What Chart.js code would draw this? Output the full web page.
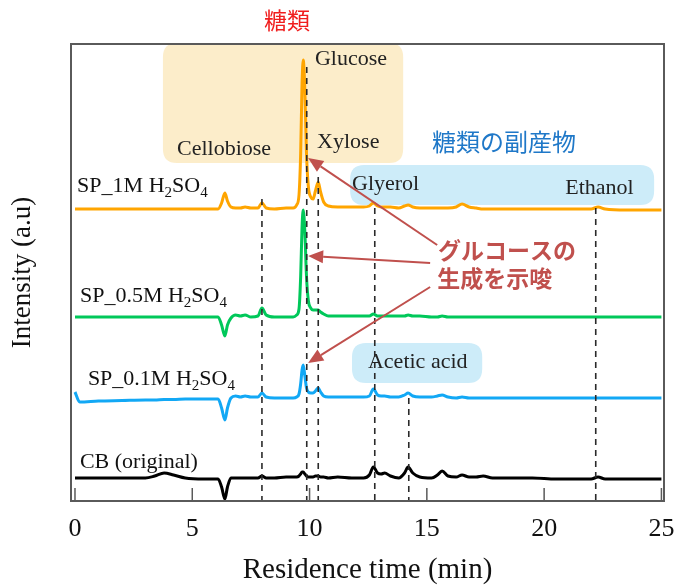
<!DOCTYPE html>
<html><head><meta charset="utf-8">
<script src="https://cdn.jsdelivr.net/npm/chart.js@4/dist/chart.umd.min.js"></script>
<style>html,body{margin:0;padding:0;background:#fff}</style>
</head><body>
<canvas id="c" width="675" height="585"></canvas>
<script>
// ---- data ----
const times = [0,0.2,1.0,2.0,3.0,3.4,3.8,4.2,4.7,5.5,6.1,6.25,6.39,6.5,6.65,6.85,7.05,7.25,7.5,7.8,7.97,8.15,8.5,9.0,9.3,9.45,9.55,9.62,9.68,9.73,9.8,9.87,9.95,10.05,10.15,10.25,10.37,10.47,10.6,10.8,11.2,11.8,12.3,12.55,12.72,12.9,13.05,13.2,13.45,13.8,14.05,14.2,14.4,14.7,15.2,15.45,15.65,15.9,16.25,16.5,16.8,17.1,17.4,17.8,18.5,19.5,20.5,21.5,22.0,22.3,22.6,23.5,24.3,25.0];
const seriesNames = ['SP_1M H2SO4','SP_0.5M H2SO4','SP_0.1M H2SO4','CB (original)'];
const sp1M   = [0,0,0,0,0,0,0,0,0,0,0,6,16,8,2,1,1,2,1,1,6,1,0,1,1,4,14,55,125,149,118,55,22,12,10,18,27,17,7,3,2,2,2,3,6,3,2,2,2,1,3,4,2,1,1,1,1,1,2,5,2,1,0,0,0,0,0,0,0,2,0,-1,-1,-1];
const sp05M  = [0,0,0,0,0,0,0,0,0,0,0,-8,-19,-8,-1,2,1,2,0,1,9,2,0,0,0,2,8,40,90,107,85,40,16,9,7,7,7,5,3,1,1,1,1,1,3,1,1,1,1,1,1,2,1,1,0,0,1,0,0,0,0,0,0,0,0,0,0,0,0,0,0,0,0,0];
const sp01M  = [6,-4,-3,-2.5,-2,-2,-1.5,-1.5,-1,-1,-1,-10,-22,-10,0,2,1,2,1,1,5,1,0,0,0,1,4,14,28,33,22,10,6,5,5,7,10,6,2,1,1,1,1,2,9,3,2,2,1,1,3,5,2,1,1,2,3,1,0,1,0,0,0,0,0,0,0,0,0,0,0,0,0,0];
const cbOrig = [0,0,0,0,0,2,5,3,0,-1,-1,-9,-21,-9,0,0,0,0,0,0,2,0,0,1,1,1,2,4,6,6,4,2,1,1,1,2,2,1,1,0,1,0,0,3,11,5,4,5,2,0,5,11,5,1,0,3,7,2,1,3,1,1,2,0,0,0,-1,-1,-1,1,-1,-1,-1,-1];
const baselineOffsets = [292,184,103,23];
const seriesColors = ['#FFA500','#00C85A','#12A8F5','#000000'];
const xTickValues = [0,5,10,15,20,25];
const markerTimes = [7.97,9.88,10.37,12.78,14.23,22.2];
const markerTops  = [302,434,324,293,103,293];

const serif = 'Liberation Serif, Times New Roman, serif';
const cjk = '"Noto Sans CJK JP", sans-serif';

const seriesLabels = [
  {parts:[['SP_1M H',0],['2',1],['SO',0],['4',1]], x:0.09, y:309},
  {parts:[['SP_0.5M H',0],['2',1],['SO',0],['4',1]], x:0.21, y:199},
  {parts:[['SP_0.1M H',0],['2',1],['SO',0],['4',1]], x:0.55, y:116},
  {parts:[['CB (original)',0]], x:0.21, y:33}
];
const compoundLabels = [
  {t:'Glucose', x:10.23, y:436}, {t:'Xylose', x:10.32, y:353}, {t:'Cellobiose', x:4.35, y:346},
  {t:'Glyerol', x:11.81, y:311}, {t:'Ethanol', x:20.9, y:307}, {t:'Acetic acid', x:12.49, y:133}
];
const shadeBoxes = [
  {x0:3.75, x1:13.99, y0:338, y1:458, c:'rgba(250,220,150,0.5)'},
  {x0:11.73, x1:24.69, y0:296, y1:336, c:'#CDECF9'},
  {x0:11.81, x1:17.36, y0:118, y1:158, c:'#CDECF9'}
];
const arrows = [
  {x0:15.44, y0:256, x1:9.94, y1:343},
  {x0:15.14, y0:238, x1:9.94, y1:245},
  {x0:15.14, y0:214, x1:9.94, y1:138}
];

const seriesValues = [sp1M, sp05M, sp01M, cbOrig];
const datasets = seriesValues.map((vals, i) => ({
  label: seriesNames[i],
  data: times.map((t, k) => ({x: t, y: baselineOffsets[i] + vals[k]})),
  borderColor: seriesColors[i], borderWidth: 3, pointRadius: 0,
  cubicInterpolationMode: 'monotone', fill: false
}));

function rr(ctx, x, y, w, h, r) {
  ctx.beginPath();
  ctx.moveTo(x + r, y); ctx.lineTo(x + w - r, y); ctx.quadraticCurveTo(x + w, y, x + w, y + r);
  ctx.lineTo(x + w, y + h - r); ctx.quadraticCurveTo(x + w, y + h, x + w - r, y + h);
  ctx.lineTo(x + r, y + h); ctx.quadraticCurveTo(x, y + h, x, y + h - r);
  ctx.lineTo(x, y + r); ctx.quadraticCurveTo(x, y, x + r, y); ctx.closePath();
}

const deco = {
  id: 'deco',
  beforeDatasetsDraw(chart) {
    const {ctx, scales: {x, y}} = chart;
    ctx.save();
    shadeBoxes.forEach(b => {
      const px0 = x.getPixelForValue(b.x0), px1 = x.getPixelForValue(b.x1);
      const py0 = y.getPixelForValue(b.y1), py1 = y.getPixelForValue(b.y0);
      ctx.fillStyle = b.c; rr(ctx, px0, py0, px1 - px0, py1 - py0, 14); ctx.fill();
    });
    ctx.restore();
  },
  afterDatasetsDraw(chart) {
    const {ctx, chartArea: a, scales: {x, y}} = chart;
    ctx.save();
    // dashed markers
    ctx.strokeStyle = '#2a2a2a'; ctx.lineWidth = 1.6; ctx.setLineDash([6, 5]);
    markerTimes.forEach((t, i) => {
      const px = x.getPixelForValue(t);
      ctx.beginPath(); ctx.moveTo(px, y.getPixelForValue(markerTops[i])); ctx.lineTo(px, y.getPixelForValue(0)); ctx.stroke();
    });
    ctx.setLineDash([]);
    // border box
    ctx.strokeStyle = '#5a5a5a'; ctx.lineWidth = 2;
    ctx.strokeRect(a.left, a.top, a.right - a.left, a.bottom - a.top);
    // inward ticks
    ctx.lineWidth = 1.5;
    xTickValues.forEach(v => {
      const px = x.getPixelForValue(v);
      ctx.beginPath(); ctx.moveTo(px, a.bottom); ctx.lineTo(px, a.bottom - 13); ctx.stroke();
    });
    // series labels
    ctx.fillStyle = '#111'; ctx.textBaseline = 'alphabetic'; ctx.textAlign = 'left';
    seriesLabels.forEach(l => {
      let px = x.getPixelForValue(l.x); const py = y.getPixelForValue(l.y);
      l.parts.forEach(([s, sub]) => {
        ctx.font = (sub ? 15 : 22) + 'px ' + serif;
        ctx.fillText(s, px, py + (sub ? 5 : 0));
        px += ctx.measureText(s).width;
      });
    });
    ctx.font = '22px ' + serif; ctx.fillStyle = '#222';
    compoundLabels.forEach(l => ctx.fillText(l.t, x.getPixelForValue(l.x), y.getPixelForValue(l.y)));
    // Japanese labels
    ctx.textBaseline = 'middle';
    ctx.font = '23px ' + cjk; ctx.fillStyle = '#F01E1E'; ctx.textAlign = 'center';
    ctx.fillText('糖類', x.getPixelForValue(9.04), y.getPixelForValue(481));
    ctx.textAlign = 'left';
    ctx.font = '24px ' + cjk; ctx.fillStyle = '#1F78C8';
    ctx.fillText('糖類の副産物', x.getPixelForValue(15.22), y.getPixelForValue(359));
    ctx.font = 'bold 23px ' + cjk; ctx.fillStyle = '#C0504D';
    ctx.fillText('グルコースの', x.getPixelForValue(15.48), y.getPixelForValue(251));
    ctx.fillText('生成を示唆', x.getPixelForValue(15.44), y.getPixelForValue(223));
    // arrows
    ctx.strokeStyle = '#C0504D'; ctx.fillStyle = '#C0504D'; ctx.lineWidth = 2;
    arrows.forEach(r => {
      const ax = x.getPixelForValue(r.x0), ay = y.getPixelForValue(r.y0);
      const bx = x.getPixelForValue(r.x1), by = y.getPixelForValue(r.y1);
      const ang = Math.atan2(by - ay, bx - ax), L = 15, W = 6.5;
      const cx = bx - L * Math.cos(ang), cy = by - L * Math.sin(ang);
      ctx.beginPath(); ctx.moveTo(ax, ay); ctx.lineTo(cx, cy); ctx.stroke();
      ctx.beginPath(); ctx.moveTo(bx, by);
      ctx.lineTo(cx + W * Math.sin(ang), cy - W * Math.cos(ang));
      ctx.lineTo(cx - W * Math.sin(ang), cy + W * Math.cos(ang));
      ctx.closePath(); ctx.fill();
    });
    ctx.restore();
  }
};

new Chart(document.getElementById('c'), {
  type: 'line',
  data: {datasets},
  plugins: [deco],
  options: {
    responsive: false, animation: false, devicePixelRatio: 1,
    layout: {padding: {left: 0, top: 44, right: 11, bottom: 0}},
    plugins: {legend: {display: false}, tooltip: {enabled: false}},
    scales: {
      x: {
        type: 'linear', min: -0.17, max: 25.11,
        afterBuildTicks: s => { s.ticks = xTickValues.map(v => ({value: v})); },
        grid: {display: false, drawTicks: false}, border: {display: false},
        ticks: {font: {family: serif, size: 26}, color: '#111', padding: 13, maxRotation: 0, autoSkip: false},
        title: {display: true, text: 'Residence time (min)', font: {family: serif, size: 29, lineHeight: 1}, color: '#111', padding: 0},
        afterFit: s => { s.height = 84; s.paddingLeft = 0; s.paddingRight = 0; }
      },
      y: {
        min: 0, max: 457,
        grid: {display: false, drawTicks: false}, border: {display: false},
        ticks: {display: false},
        title: {display: true, text: 'Intensity (a.u)', font: {family: serif, size: 27, lineHeight: 1}, color: '#111', padding: {top: 9, bottom: 0}},
        afterFit: s => { s.width = 71; s.paddingTop = 0; s.paddingBottom = 0; }
      }
    }
  }
});
</script>
</body></html>
